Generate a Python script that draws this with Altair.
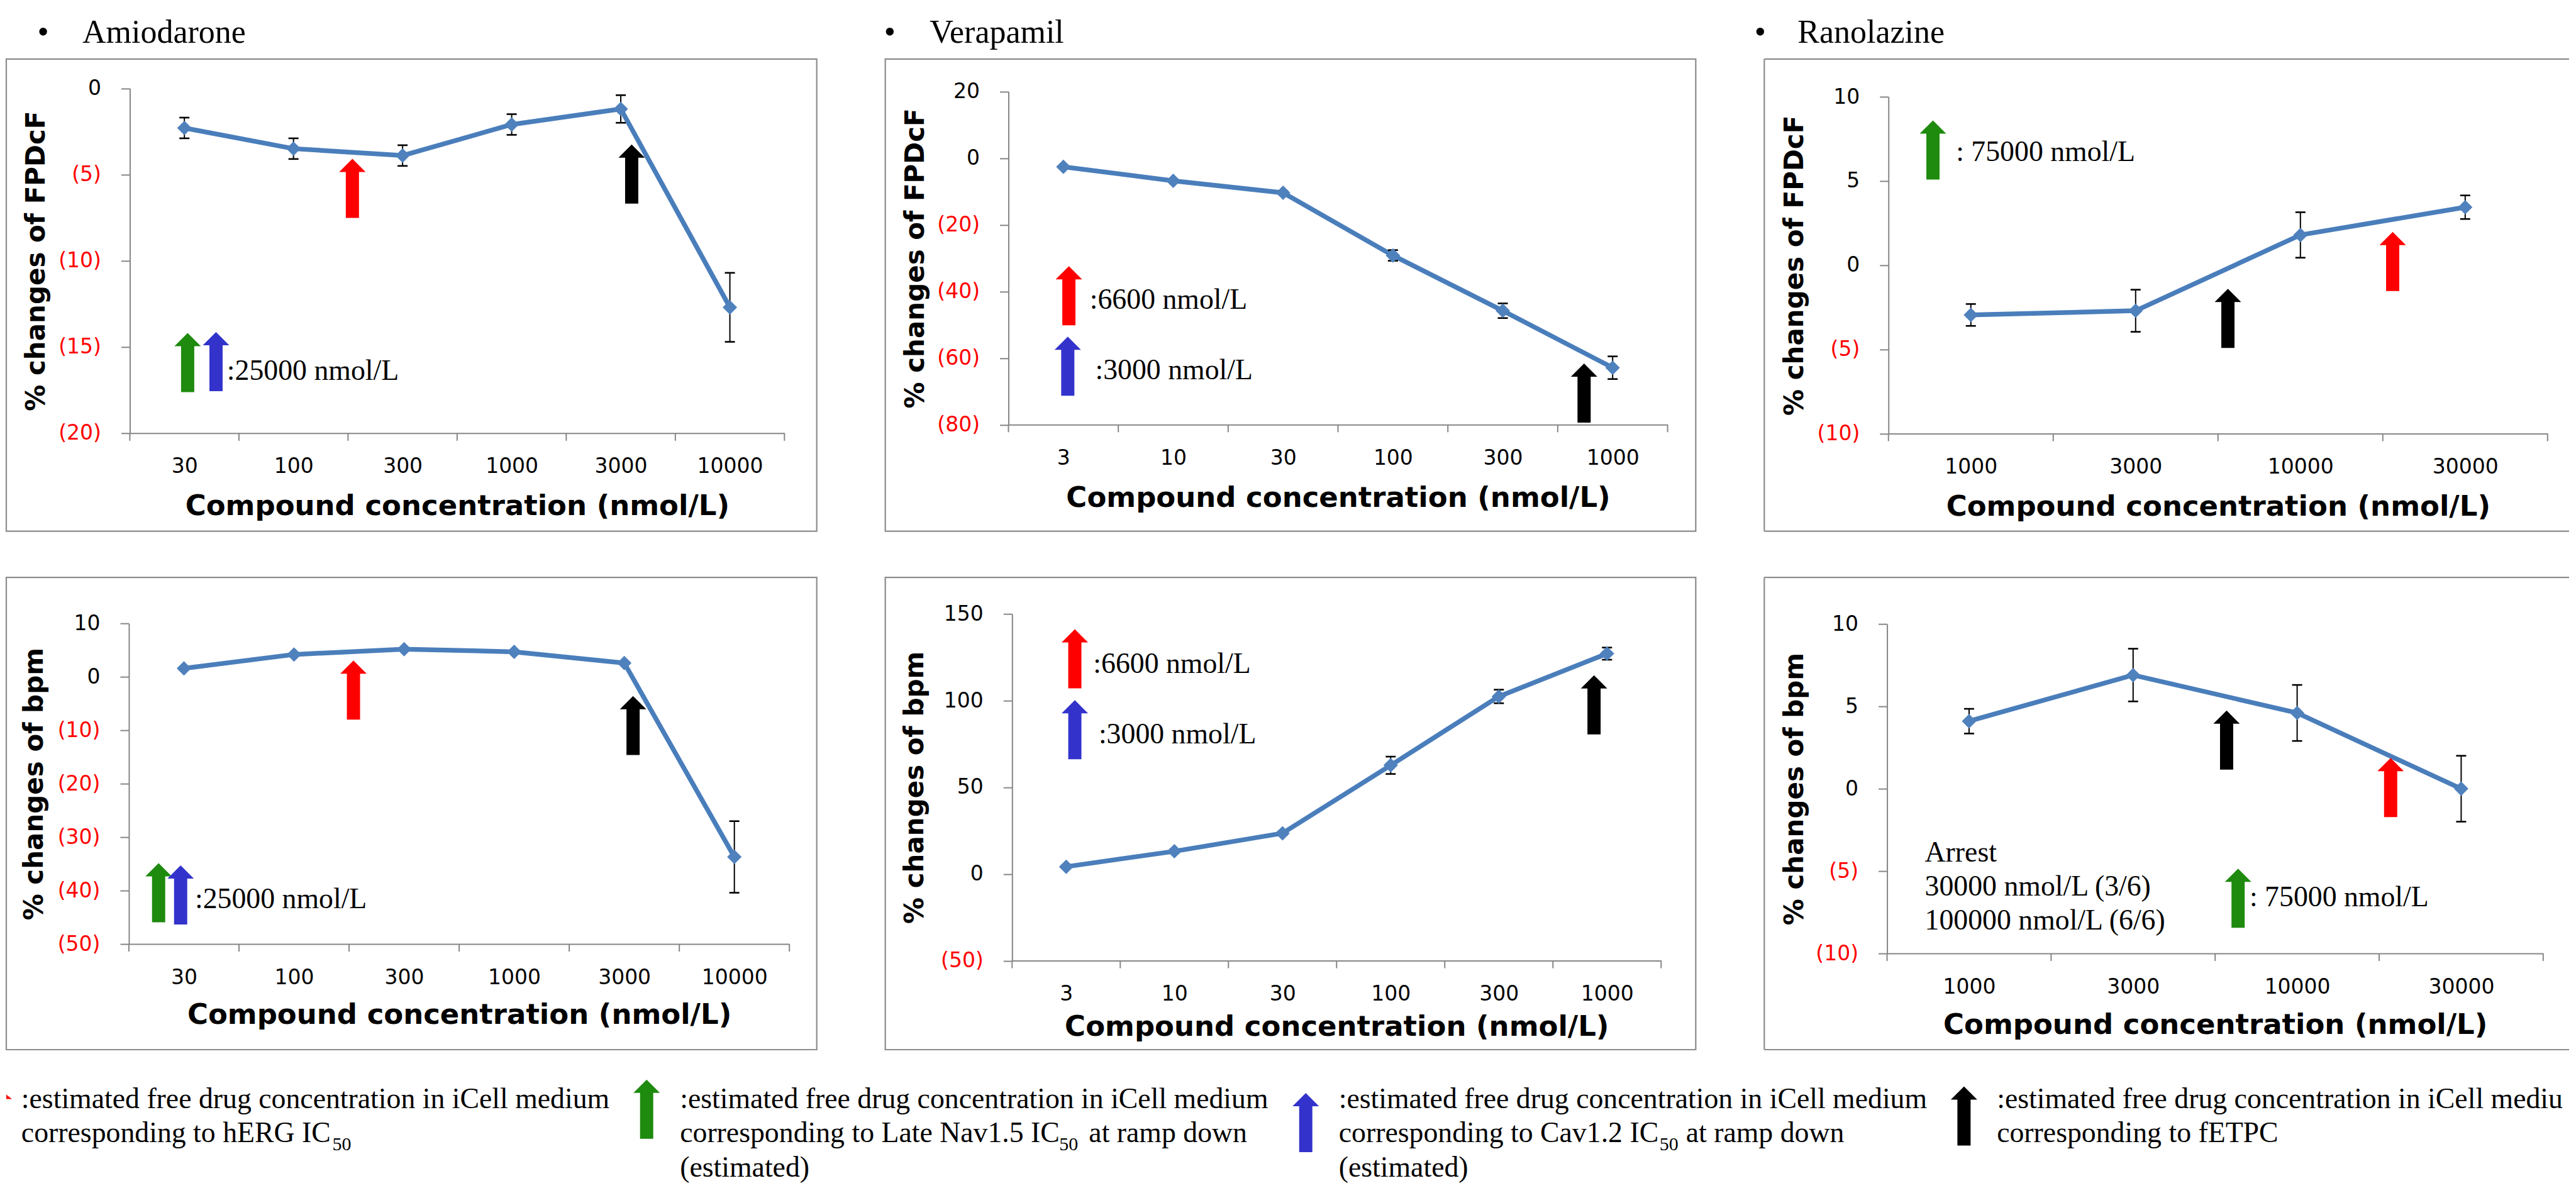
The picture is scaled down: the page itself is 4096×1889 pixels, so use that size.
import altair as alt
import pandas as pd

# ---------------- data ----------------
AMI_CONC = ["30", "100", "300", "1000", "3000", "10000"]
VER_CONC = ["3", "10", "30", "100", "300", "1000"]
RAN_CONC = ["1000", "3000", "10000", "30000"]

# % changes of FPDcF (mean, error)
AMI_FPDCF = [-2.3, -3.5, -3.9, -2.1, -1.2, -12.7]
AMI_FPDCF_ERR = [0.6, 0.6, 0.6, 0.6, 0.8, 2.0]
VER_FPDCF = [-2.6, -6.8, -10.4, -29.2, -45.8, -62.9]
VER_FPDCF_ERR = [0.4, 0.4, 0.5, 1.6, 2.2, 3.4]
RAN_FPDCF = [-2.95, -2.7, 1.8, 3.45]
RAN_FPDCF_ERR = [0.65, 1.25, 1.35, 0.7]

# % changes of bpm (mean, error)
AMI_BPM = [1.6, 4.2, 5.2, 4.7, 2.6, -33.7]
AMI_BPM_ERR = [0.2, 0.2, 0.2, 0.2, 0.2, 6.7]
VER_BPM = [4.2, 13.1, 23.5, 62.7, 102.4, 127.1]
VER_BPM_ERR = [0.8, 1.0, 1.0, 5.0, 3.9, 3.5]
RAN_BPM = [4.1, 6.9, 4.6, 0.0]
RAN_BPM_ERR = [0.75, 1.6, 1.7, 2.0]

# arrows: (colour, category position, tip value, tail value)
AMI_FPDCF_ARROWS = [("red", 1.54, -4.1, -7.5), ("black", 4.1, -3.25, -6.7),
                    ("green", 0.03, -14.2, -17.6), ("blue", 0.29, -14.1, -17.6)]
VER_FPDCF_ARROWS = [("red", 0.05, -32.6, -50.0), ("blue", 0.04, -53.6, -71.3),
                    ("black", 4.74, -61.7, -79.3)]
RAN_FPDCF_ARROWS = [("green", -0.23, 8.6, 5.1), ("black", 1.56, -1.4, -4.9),
                    ("red", 2.56, 2.0, -1.55)]
AMI_BPM_ARROWS = [("red", 1.54, 3.0, -7.9), ("black", 4.08, -3.7, -14.5),
                  ("green", -0.23, -34.8, -46.0), ("blue", -0.03, -35.3, -46.3)]
VER_BPM_ARROWS = [("red", 0.08, 141.0, 107.2), ("blue", 0.08, 100.2, 66.3),
                  ("black", 4.88, 114.5, 80.7)]
RAN_BPM_ARROWS = [("black", 1.57, 4.7, 1.2), ("red", 2.57, 1.85, -1.7),
                  ("green", 1.64, -4.9, -8.4)]

# text notes: (text, category position of left edge, value)
AMI_FPDCF_NOTES = [(":25000 nmol/L", 0.39, -16.4)]
VER_FPDCF_NOTES = [(":6600 nmol/L", 0.24, -42.5), (":3000 nmol/L", 0.29, -63.7)]
RAN_FPDCF_NOTES = [(": 75000 nmol/L", -0.09, 6.7)]
AMI_BPM_NOTES = [(":25000 nmol/L", 0.10, -41.6)]
VER_BPM_NOTES = [(":6600 nmol/L", 0.25, 121.1), (":3000 nmol/L", 0.30, 80.3)]
RAN_BPM_NOTES = [(": 75000 nmol/L", 1.71, -6.6), ("Arrest", -0.27, -3.9),
                 ("30000 nmol/L (3/6)", -0.27, -5.97), ("100000 nmol/L (6/6)", -0.27, -8.03)]

COMPOUNDS = ["Amiodarone", "Verapamil", "Ranolazine"]
LEGEND_LINES = [
    [":estimated free drug concentration in iCell medium", "corresponding to hERG IC"],
    [":estimated free drug concentration in iCell medium", "corresponding to Late Nav1.5 IC", "(estimated)"],
    [":estimated free drug concentration in iCell medium", "corresponding to Cav1.2 IC", "(estimated)"],
    [":estimated free drug concentration in iCell medium", "corresponding to fETPC"],
]

# ---------------- style ----------------
FRAME = "#8C8C8C"
AXISC = "#868686"
LINEC = "#4A7EBB"
MARKC = "#4F81BD"
COLORS = {"red": "#FF0000", "green": "#1E8A0E", "blue": "#3333CC", "black": "#000000"}
ARROW = "M0,-1L0.447,-0.553L0.223,-0.553L0.223,1L-0.223,1L-0.223,-0.553L-0.447,-0.553Z"
ARROW_SIZE = 94 * 94
SERIF = "Liberation Serif"
SANS = "DejaVu Sans"
NOTE_FS = 45.8
ONE = pd.DataFrame({"k": [0]})


def deco_text(txt, x, y, size=NOTE_FS, align="left", **kw):
    return alt.Chart(ONE).mark_text(text=txt, align=align, baseline="alphabetic", font=SERIF,
                                    fontSize=size, color="black", **kw).encode(
        x=alt.value(x), y=alt.value(y))


def deco_arrow(color, x, y):
    return alt.Chart(ONE).mark_point(shape=ARROW, filled=True, size=ARROW_SIZE, opacity=1,
                                     strokeWidth=0, color=COLORS[color]).encode(
        x=alt.value(x), y=alt.value(y))


def panel(conc, vals, errs, arrows, notes, ydom, ystep, ytitle, w, h, xr, yr, xt_dy, yt_dx,
          open_right=False, extra=()):
    n = len(conc)
    df = pd.DataFrame({"i": list(range(n)), "v": vals,
                       "lo": [v - e for v, e in zip(vals, errs)],
                       "hi": [v + e for v, e in zip(vals, errs)]})
    x0, x1 = xr
    yb, ytp = yr
    labs = "[" + ",".join("'%s'" % c for c in conc) + "]"
    xs = alt.Scale(domain=[-0.5, n - 0.5], range=[x0, x1], nice=False, zero=False)
    ys = alt.Scale(domain=ydom, range=[yb, ytp], nice=False, zero=False)
    xaxis = alt.Axis(values=list(range(n)),
                     labelExpr=labs + "[datum.value] || ''",
                     labelFlush=False, labelOverlap=False, ticks=False, tickSize=0,
                     labelFont=SANS, labelFontSize=33, labelColor="black", labelPadding=37,
                     domainColor=AXISC, domainWidth=2, grid=False, offset=yb - h,
                     title="Compound concentration (nmol/L)", titleFont=SANS, titleFontSize=45,
                     titleFontWeight="bold", titleColor="black", titleX=(x0 + x1) / 2,
                     titleY=xt_dy, titleAlign="center", titleBaseline="alphabetic")
    yvals = list(range(ydom[0], ydom[1] + 1, ystep))
    yaxis = alt.Axis(values=yvals,
                     labelExpr="datum.value < 0 ? '(' + abs(datum.value) + ')' : '' + datum.value",
                     labelColor={"condition": {"test": "datum.value < 0", "value": "#FF0000"},
                                 "value": "black"},
                     labelFont=SANS, labelFontSize=33, labelPadding=32,
                     tickSize=14, tickColor=AXISC, tickWidth=2, domainColor=AXISC, domainWidth=2,
                     grid=False, offset=-x0,
                     title=ytitle, titleFont=SANS, titleFontSize=42, titleFontWeight="bold",
                     titleColor="black", titleX=yt_dx, titleY=(yb + ytp) / 2, titleAngle=270,
                     titleAlign="center", titleBaseline="middle")
    X = alt.X("i:Q", scale=xs, axis=xaxis)
    Y = alt.Y("v:Q", scale=ys, axis=yaxis)
    base = alt.Chart(df)
    # category-boundary tick marks of the x axis
    tdf = pd.DataFrame({"i": [k - 0.5 for k in range(n + 1)]})
    xticks = alt.Chart(tdf).mark_rule(color=AXISC, strokeWidth=2).encode(
        x=X, y=alt.value(yb), y2=alt.value(yb + 12))
    line = base.mark_line(color=LINEC, strokeWidth=7.5, strokeJoin="round").encode(x=X, y=Y)
    stem = base.mark_rule(color="black", strokeWidth=2).encode(
        x=X, y=alt.Y("lo:Q", scale=ys, axis=yaxis), y2="hi:Q")
    caplo = base.mark_tick(color="black", orient="horizontal", size=16, thickness=2.6,
                           opacity=1).encode(x=X, y=alt.Y("lo:Q", scale=ys, axis=yaxis))
    caphi = base.mark_tick(color="black", orient="horizontal", size=16, thickness=2.6,
                           opacity=1).encode(x=X, y=alt.Y("hi:Q", scale=ys, axis=yaxis))
    pts = base.mark_point(shape="diamond", filled=True, size=529, color=MARKC, opacity=1,
                          strokeWidth=0).encode(x=X, y=Y)
    adf = pd.DataFrame({"c": [COLORS[a[0]] for a in arrows], "i": [a[1] for a in arrows],
                        "v": [(a[2] + a[3]) / 2 for a in arrows]})
    arr = alt.Chart(adf).mark_point(shape=ARROW, filled=True, size=ARROW_SIZE, opacity=1,
                                    strokeWidth=0).encode(
        x=X, y=Y, color=alt.Color("c:N", scale=None))
    ndf = pd.DataFrame({"t": [t[0] for t in notes], "i": [t[1] for t in notes],
                        "v": [t[2] for t in notes]})
    txt = alt.Chart(ndf).mark_text(align="left", baseline="middle", font=SERIF, fontSize=NOTE_FS,
                                   color="black").encode(x=X, y=Y, text="t:N")
    layers = [xticks, line, stem, caplo, caphi, pts, arr, txt]
    if open_right:
        for enc in (dict(x=alt.value(0), x2=alt.value(w), y=alt.value(0)),
                    dict(x=alt.value(0), x2=alt.value(w), y=alt.value(h)),
                    dict(x=alt.value(0), y=alt.value(0), y2=alt.value(h))):
            layers.append(alt.Chart(ONE).mark_rule(color=FRAME, strokeWidth=2.2).encode(**enc))
    layers.extend(extra)
    ch = alt.layer(*layers).properties(width=w, height=h)
    if open_right:
        ch = ch.properties(view=alt.ViewBackground(stroke="transparent"))
    return ch


def title_deco(name, bx, nx):
    return [deco_text("\u2022", bx, -25.8, size=52, align="center"),
            deco_text(name, nx, -25.8, size=52)]


# legend (drawn below the lower-left panel, positions relative to that panel's frame)
DY = -8
legend = [
    alt.Chart(ONE).mark_point(shape="M-1,-0.8L-1,0.8L1,0.8Z", filled=True, size=81, opacity=1,
                              strokeWidth=0, color=COLORS["red"]).encode(
        x=alt.value(4.5), y=alt.value(834 + DY)),
    deco_text(LEGEND_LINES[0][0], 23.85, 852 + DY),
    deco_text(LEGEND_LINES[0][1], 23.85, 906.4 + DY),
    deco_text("50", 518.75, 919.5 + DY, size=30),
    deco_arrow("green", 1018.45, 853.8 + DY),
    deco_text(LEGEND_LINES[1][0], 1071.45, 852 + DY),
    deco_text(LEGEND_LINES[1][1], 1071.45, 906.4 + DY),
    deco_text("50", 1674.75, 919.5 + DY, size=30),
    deco_text("at ramp down", 1721.75, 906.4 + DY),
    deco_text(LEGEND_LINES[1][2], 1071.45, 960.8 + DY),
    deco_arrow("blue", 2066.75, 875 + DY),
    deco_text(LEGEND_LINES[2][0], 2119.25, 852 + DY),
    deco_text(LEGEND_LINES[2][1], 2119.25, 906.4 + DY),
    deco_text("50", 2629.35, 919.5 + DY, size=30),
    deco_text("at ramp down", 2671.35, 906.4 + DY),
    deco_text(LEGEND_LINES[2][2], 2119.25, 960.8 + DY),
    deco_arrow("black", 3113.65, 864.6 + DY),
    deco_text(LEGEND_LINES[3][0], 3165.95, 852 + DY, limit=908, ellipsis="\u200b"),
    deco_text(LEGEND_LINES[3][1], 3165.95, 906.4 + DY),
]

p1 = panel(AMI_CONC, AMI_FPDCF, AMI_FPDCF_ERR, AMI_FPDCF_ARROWS, AMI_FPDCF_NOTES, [-20, 0], 5,
           "% changes of FPDcF", 1289, 751, (196.5, 1237.6), (595.1, 46.5), 130, -149,
           extra=title_deco(COMPOUNDS[0], 58.5, 121.1))
p2 = panel(VER_CONC, VER_FPDCF, VER_FPDCF_ERR, VER_FPDCF_ARROWS, VER_FPDCF_NOTES, [-80, 20], 20,
           "% changes of FPDcF", 1289, 751, (195.9, 1244.2), (581.5, 51.6), 130, -148,
           extra=title_deco(COMPOUNDS[1], 7.2, 70.6))
p3 = panel(RAN_CONC, RAN_FPDCF, RAN_FPDCF_ERR, RAN_FPDCF_ARROWS, RAN_FPDCF_NOTES, [-10, 10], 5,
           "% changes of FPDcF", 1280, 751, (197.5, 1245.8), (595.8, 60.2), 129.5, -149,
           open_right=True, extra=title_deco(COMPOUNDS[2], -6.4, 53.0))
p4 = panel(AMI_CONC, AMI_BPM, AMI_BPM_ERR, AMI_BPM_ARROWS, AMI_BPM_NOTES, [-50, 10], 10,
           "% changes of bpm", 1289, 751, (195.0, 1245.5), (583.0, 73.2), 126, -150,
           extra=legend)
p5 = panel(VER_CONC, VER_BPM, VER_BPM_ERR, VER_BPM_ARROWS, VER_BPM_NOTES, [-50, 150], 50,
           "% changes of bpm", 1289, 751, (201.7, 1233.9), (609.5, 58.0), 118.5, -155)
p6 = panel(RAN_CONC, RAN_BPM, RAN_BPM_ERR, RAN_BPM_ARROWS, RAN_BPM_NOTES, [-10, 10], 5,
           "% changes of bpm", 1280, 751, (195.3, 1238.8), (598.0, 74.0), 127, -147,
           open_right=True)

chart = alt.concat(p1, p2, p3, p4, p5, p6, columns=3,
                   spacing={"row": 73.5, "column": 109}, bounds="flush").properties(
    padding={"left": 0, "top": 16.7, "right": 0, "bottom": 0}
).configure_view(stroke=FRAME, strokeWidth=2.2)

chart.save("out.html", embed_options={"renderer": "svg", "actions": False})
